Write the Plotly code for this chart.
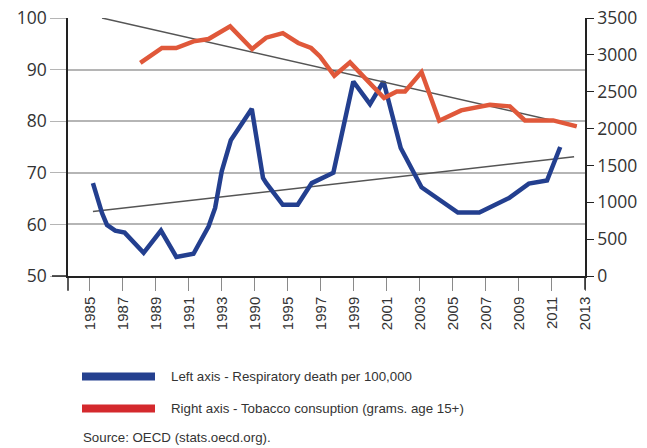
"""Respiratory deaths vs tobacco consumption, two y axes with trend lines."""

import plotly.graph_objects as go

# x positions along the category axis (1985 = first labelled tick, 1 unit per category)
tick_vals = list(range(1985, 2016, 2))
tick_text = ["1985", "1987", "1989", "1991", "1993", "1990", "1995", "1997",
             "1999", "2001", "2003", "2005", "2007", "2009", "2011", "2013"]

death_x = [1985.2, 1985.75, 1986.05, 1986.55, 1987.12, 1988.27, 1989.32, 1990.25,
           1991.29, 1992.2, 1992.6, 1993.0, 1993.55, 1994.82, 1995.5, 1995.7,
           1996.7, 1997.6, 1998.45, 1999.76, 2000.97, 2001.98, 2002.8, 2003.84,
           2005.1, 2007.3, 2008.6, 2010.4, 2011.6, 2012.7, 2013.5]
death_y = [68.0, 62.2, 59.9, 58.8, 58.4, 54.5, 58.8, 53.7,
           54.3, 59.6, 63.2, 70.3, 76.3, 82.4, 69.0, 68.0,
           63.8, 63.8, 68.0, 70.0, 87.7, 83.3, 87.7, 74.8,
           67.2, 62.3, 62.3, 65.1, 67.9, 68.5, 75.0]

tobacco_x = [1988.07, 1989.38, 1990.24, 1991.29, 1992.2, 1993.51, 1994.84, 1995.69,
             1996.7, 1997.63, 1998.41, 1998.95, 1999.82, 2000.77, 2002.83, 2003.6,
             2004.1, 2005.1, 2006.17, 2007.5, 2009.24, 2010.45, 2011.36, 2013.07, 2014.5]
tobacco_y = [2890, 3093, 3093, 3183, 3215, 3386, 3080, 3233,
             3294, 3161, 3093, 2979, 2717, 2898, 2415, 2504,
             2504, 2767, 2107, 2247, 2324, 2301, 2111, 2111, 2030]

death_trend_x = [1985.2, 2014.34]
death_trend_y = [62.5, 73.1]
tobacco_trend_x = [1985.75, 2014.5]
tobacco_trend_y = [3500, 2035]

legend_labels = ["Left axis - Respiratory death per 100,000",
                 "Right axis - Tobacco consuption (grams. age 15+)"]
source_text = "Source: OECD (stats.oecd.org)."

W, H = 647, 448
PAGE = 8  # the html body margin pushes the figure 8px right and down
# plot area on the page: x 68..585, y 18..276
L, T = 68 - PAGE, 18 - PAGE
R, B = W - (585 - PAGE), H - (276.3 - PAGE)
TEXT = "#333333"
AXIS = "#222222"
SANS = "Liberation Sans, Arial, sans-serif"
NUMS = "Open Sans, Arial, sans-serif"


def px(x, y):
    """page pixel position -> paper coordinates"""
    x, y = x - PAGE, y - PAGE
    return (x - L) / (W - L - R), (H - B - y) / (H - T - B)


fig = go.Figure()
fig.add_trace(go.Scatter(x=death_trend_x, y=death_trend_y, mode="lines",
                         line=dict(color="#555555", width=1.5), hoverinfo="skip"))
fig.add_trace(go.Scatter(x=tobacco_trend_x, y=tobacco_trend_y, mode="lines", yaxis="y2",
                         line=dict(color="#555555", width=1.5), hoverinfo="skip"))
fig.add_trace(go.Scatter(x=death_x, y=death_y, mode="lines", name=legend_labels[0],
                         line=dict(color="#233f8f", width=4.5)))
fig.add_trace(go.Scatter(x=tobacco_x, y=tobacco_y, mode="lines", yaxis="y2", name=legend_labels[1],
                         line=dict(color="#e0583a", width=4.5)))

# axis lines poke out past the corners, as in the original
for (ax, ay), (bx, by) in [((52, 276.3), (68, 276.3)), ((68, 276.3), (68, 291)),
                           ((585, 276.3), (585, 290))]:
    x0, y0 = px(ax, ay)
    x1, y1 = px(bx, by)
    fig.add_shape(type="line", xref="paper", yref="paper", x0=x0, y0=y0, x1=x1, y1=y1,
                  line=dict(color=AXIS, width=1.5))

# hand drawn legend below the plot
for i, (label, colour) in enumerate(zip(legend_labels, ["#24408f", "#d4292d"])):
    yy = 377 + 32 * i
    x0, y0 = px(82, yy - 4)
    x1, y1 = px(155, yy + 4)
    fig.add_shape(type="rect", xref="paper", yref="paper", x0=x0, x1=x1, y0=y0, y1=y1,
                  fillcolor=colour, line_width=0)
    tx, ty = px(169, yy)
    fig.add_annotation(text=label, xref="paper", yref="paper", x=tx, y=ty,
                       xanchor="left", yanchor="middle", showarrow=False,
                       font=dict(family=SANS, size=13.3, color=TEXT))
sx, sy = px(81, 438)
fig.add_annotation(text=source_text, xref="paper", yref="paper", x=sx, y=sy,
                   xanchor="left", yanchor="middle", showarrow=False,
                   font=dict(family=SANS, size=13.3, color=TEXT))

fig.update_layout(
    width=W, height=H, margin=dict(l=L, r=R, t=T, b=B, autoexpand=False),
    paper_bgcolor="white", plot_bgcolor="white", showlegend=False,
    xaxis=dict(range=[1983.69, 2015], tickvals=tick_vals, ticktext=tick_text,
               tickangle=-90, ticks="outside", ticklen=13, tickcolor="#8a8a8a",
               showline=True, linecolor=AXIS, linewidth=1.5, showgrid=False,
               zeroline=False, automargin=False,
               tickfont=dict(family=SANS, size=15, color=TEXT)),
    yaxis=dict(range=[50, 100], dtick=10, ticks="outside", ticklen=16, tickcolor="#b5b5b5",
               showline=True, linecolor=AXIS, linewidth=1.5, automargin=False,
               showgrid=True, gridcolor="#b5b5b5", gridwidth=1.5, zeroline=False,
               ticklabeloverflow="allow",
               tickfont=dict(family=NUMS, size=17.5, color=TEXT)),
    yaxis2=dict(range=[0, 3500], dtick=500, overlaying="y", side="right",
                ticks="outside", ticklen=7, tickcolor=AXIS, automargin=False,
                showline=True, linecolor=AXIS, linewidth=1.5, showgrid=False,
                zeroline=False, ticklabeloverflow="allow",
                tickfont=dict(family=NUMS, size=17.5, color=TEXT)),
)

fig.write_html("out.html")
